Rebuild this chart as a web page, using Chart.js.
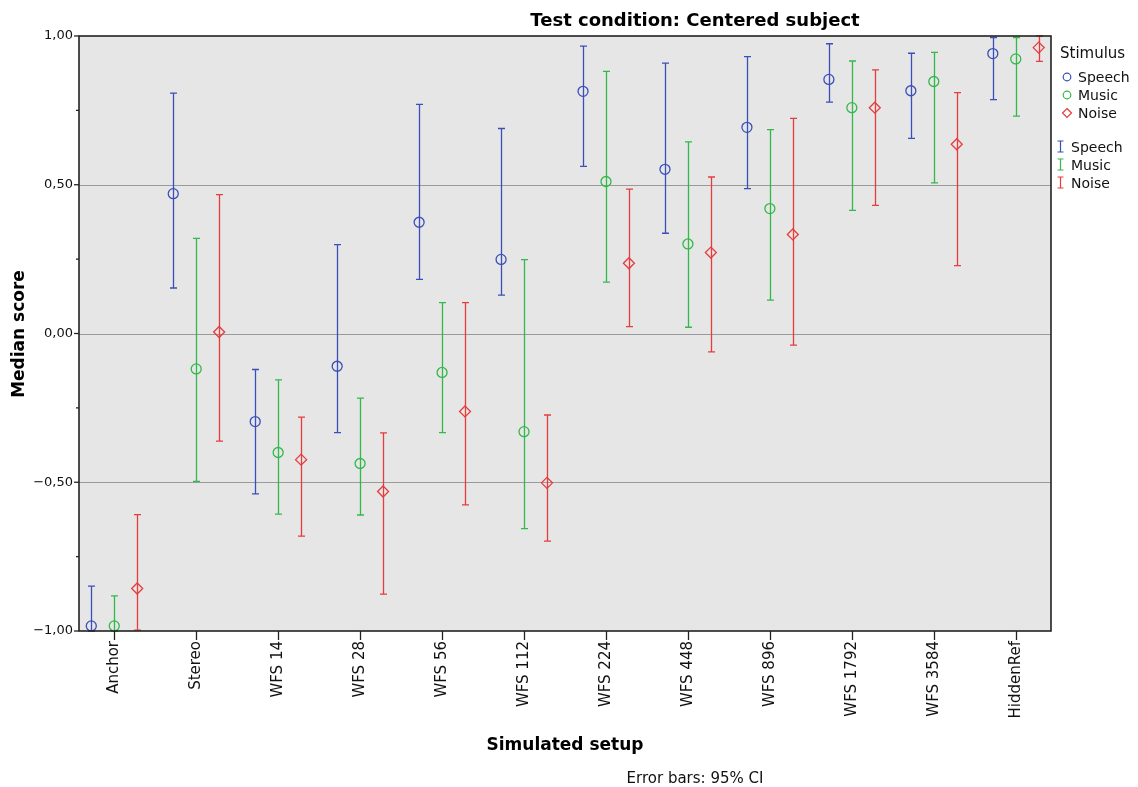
<!DOCTYPE html>
<html>
<head>
<meta charset="utf-8">
<script src="https://cdn.jsdelivr.net/npm/chart.js@4/dist/chart.umd.min.js"></script>
<style>
  html, body { margin: 0; padding: 0; background: #ffffff; }
  #wrap { width: 1138px; height: 787px; position: relative; }
</style>
</head>
<body>
<div id="wrap"><canvas id="c" width="1138" height="787"></canvas></div>
<script>
// ---- Data ----
const categories = ['Anchor','Stereo','WFS 14','WFS 28','WFS 56','WFS 112','WFS 224','WFS 448','WFS 896','WFS 1792','WFS 3584','HiddenRef'];

const speechMedian = [-0.983, 0.470, -0.296, -0.110, 0.374, 0.249, 0.814, 0.552, 0.693, 0.854, 0.816, 0.941];
const speechLower  = [-1.000, 0.153, -0.539, -0.333, 0.182, 0.129, 0.562, 0.337, 0.487, 0.778, 0.656, 0.786];
const speechUpper  = [-0.849, 0.808, -0.121,  0.299, 0.770, 0.689, 0.966, 0.909, 0.931, 0.974, 0.942, 0.995];

const musicMedian = [-0.983, -0.119, -0.400, -0.437, -0.131, -0.330, 0.511, 0.301, 0.420, 0.759, 0.847, 0.923];
const musicLower  = [-1.000, -0.497, -0.607, -0.610, -0.333, -0.656, 0.173, 0.021, 0.112, 0.414, 0.506, 0.731];
const musicUpper  = [-0.882,  0.320, -0.156, -0.217,  0.104,  0.248, 0.881, 0.644, 0.685, 0.916, 0.945, 0.995];

const noiseMedian = [-0.857, 0.005, -0.424, -0.531, -0.262, -0.502, 0.236, 0.272, 0.333, 0.759, 0.636, 0.961];
const noiseLower  = [-0.997, -0.362, -0.681, -0.876, -0.576, -0.698, 0.023, -0.062, -0.039, 0.431, 0.228, 0.915];
const noiseUpper  = [-0.609,  0.467, -0.281, -0.334,  0.104, -0.274, 0.485, 0.526, 0.723, 0.886, 0.810, 1.000];

const seriesNames = ['Speech', 'Music', 'Noise'];
const seriesColors = ['#3a4fb8', '#33b84a', '#e63c3c'];
const seriesOffsets = [-0.28, 0, 0.28];
const seriesStyles = ['circle', 'circle', 'rectRot'];

const yTickLabels = { '-1': '−1,00', '-0.5': '−0,50', '0': '0,00', '0.5': '0,50', '1': '1,00' };

const titleText = 'Test condition: Centered subject';
const yTitle = 'Median score';
const xTitle = 'Simulated setup';
const footText = 'Error bars: 95% CI';
const legendTitle = 'Stimulus';

const medians = [speechMedian, musicMedian, noiseMedian];
const lowers = [speechLower, musicLower, noiseLower];
const uppers = [speechUpper, musicUpper, noiseUpper];

const FONT = "'DejaVu Sans', sans-serif";

const datasets = seriesNames.map((name, s) => ({
  label: name,
  data: medians[s].map((v, i) => ({ x: i + seriesOffsets[s], y: v })),
  pointStyle: seriesStyles[s],
  pointRadius: s === 2 ? 5.5 : 5,
  pointHoverRadius: 5,
  pointBorderWidth: 1.3,
  borderColor: seriesColors[s],
  backgroundColor: 'rgba(0,0,0,0)',
  pointBackgroundColor: 'rgba(0,0,0,0)',
  showLine: false,
  clip: false
}));

function isMajor(v) { return Math.abs(v * 2 - Math.round(v * 2)) < 1e-9; }

const customDraw = {
  id: 'customDraw',
  beforeDatasetsDraw(chart) {
    const { ctx, chartArea: a, scales: { x, y } } = chart;
    ctx.save();
    // background
    ctx.fillStyle = '#e6e6e6';
    ctx.fillRect(a.left, a.top, a.right - a.left, a.bottom - a.top);
    // gridlines at inner major ticks
    ctx.strokeStyle = '#9a9a9a';
    ctx.lineWidth = 1;
    y.ticks.forEach(t => {
      if (isMajor(t.value) && t.value > -1 && t.value < 1) {
        const py = Math.round(y.getPixelForValue(t.value)) + 0.5;
        ctx.beginPath(); ctx.moveTo(a.left, py); ctx.lineTo(a.right, py); ctx.stroke();
      }
    });
    // error bars
    ctx.lineWidth = 1.3;
    for (let s = 0; s < 3; s++) {
      ctx.strokeStyle = seriesColors[s];
      for (let i = 0; i < categories.length; i++) {
        const px = Math.round(x.getPixelForValue(i + seriesOffsets[s])) + 0.5;
        const pLo = y.getPixelForValue(lowers[s][i]);
        const pHi = y.getPixelForValue(uppers[s][i]);
        ctx.beginPath();
        ctx.moveTo(px, pLo); ctx.lineTo(px, pHi);
        ctx.moveTo(px - 3.5, pLo); ctx.lineTo(px + 3.5, pLo);
        ctx.moveTo(px - 3.5, pHi); ctx.lineTo(px + 3.5, pHi);
        ctx.stroke();
      }
    }
    ctx.restore();
  },
  afterDraw(chart) {
    const { ctx, chartArea: a, scales: { x, y } } = chart;
    ctx.save();
    // frame
    ctx.strokeStyle = '#222';
    ctx.lineWidth = 1.6;
    ctx.strokeRect(a.left, a.top, a.right - a.left, a.bottom - a.top);
    // y tick marks
    ctx.lineWidth = 1.3;
    y.ticks.forEach(t => {
      const py = y.getPixelForValue(t.value);
      const len = isMajor(t.value) ? 5 : 3;
      ctx.beginPath(); ctx.moveTo(a.left - len, py); ctx.lineTo(a.left, py); ctx.stroke();
    });
    // x tick marks
    x.ticks.forEach(t => {
      const px = Math.round(x.getPixelForValue(t.value)) + 0.5;
      ctx.beginPath(); ctx.moveTo(px, a.bottom); ctx.lineTo(px, a.bottom + 9); ctx.stroke();
    });
    // title
    ctx.fillStyle = '#000';
    ctx.font = "bold 18px " + FONT;
    ctx.textAlign = 'center';
    ctx.textBaseline = 'alphabetic';
    ctx.fillText(titleText, 695, 26);
    // x axis title
    ctx.font = "bold 17px " + FONT;
    ctx.fillText(xTitle, 565, 750);
    // footnote
    ctx.font = "15px " + FONT;
    ctx.fillStyle = '#111';
    ctx.fillText(footText, 695, 783);
    // y axis title
    ctx.save();
    ctx.translate(24, 334);
    ctx.rotate(-Math.PI / 2);
    ctx.font = "bold 17px " + FONT;
    ctx.fillStyle = '#000';
    ctx.textAlign = 'center';
    ctx.fillText(yTitle, 0, 0);
    ctx.restore();
    // legend
    ctx.textAlign = 'left';
    ctx.fillStyle = '#111';
    ctx.font = "15px " + FONT;
    ctx.fillText(legendTitle, 1060, 58);
    ctx.font = "14px " + FONT;
    const rowsA = [77, 95, 113];
    const rowsB = [147, 165, 183];
    for (let s = 0; s < 3; s++) {
      ctx.strokeStyle = seriesColors[s];
      ctx.lineWidth = 1.2;
      const cy = rowsA[s];
      const cx = 1067;
      ctx.beginPath();
      if (s < 2) {
        ctx.arc(cx, cy, 3.8, 0, Math.PI * 2);
      } else {
        ctx.moveTo(cx, cy - 4.5); ctx.lineTo(cx + 4.5, cy); ctx.lineTo(cx, cy + 4.5); ctx.lineTo(cx - 4.5, cy); ctx.closePath();
      }
      ctx.stroke();
      ctx.fillStyle = '#111';
      ctx.fillText(seriesNames[s], 1078, cy + 5);
      // error bar symbol
      const by = rowsB[s];
      const bx = 1060.5;
      ctx.beginPath();
      ctx.moveTo(bx, by - 6); ctx.lineTo(bx, by + 5);
      ctx.moveTo(bx - 3, by - 6); ctx.lineTo(bx + 3, by - 6);
      ctx.moveTo(bx - 3, by + 5); ctx.lineTo(bx + 3, by + 5);
      ctx.stroke();
      ctx.fillText(seriesNames[s], 1071, by + 5);
    }
    ctx.restore();
  }
};

new Chart(document.getElementById('c'), {
  type: 'scatter',
  data: { datasets },
  options: {
    responsive: false,
    animation: false,
    devicePixelRatio: 1,
    layout: { padding: { top: 36, right: 87, left: 0, bottom: 0 } },
    plugins: { legend: { display: false }, title: { display: false }, tooltip: { enabled: false } },
    scales: {
      x: {
        type: 'linear',
        min: -0.43,
        max: 11.43,
        grid: { display: false, drawTicks: false },
        border: { display: false },
        afterBuildTicks: (scale) => { scale.ticks = categories.map((c, i) => ({ value: i })); },
        afterFit: (scale) => { scale.height = 156; },
        ticks: {
          autoSkip: false,
          minRotation: 90,
          maxRotation: 90,
          padding: 10,
          color: '#111',
          font: { family: FONT, size: 15 },
          callback: (v) => categories[Math.round(v)]
        }
      },
      y: {
        type: 'linear',
        min: -1,
        max: 1,
        grid: { display: false, drawTicks: false },
        border: { display: false },
        afterFit: (scale) => { scale.width = 79; },
        ticks: {
          stepSize: 0.25,
          padding: 6,
          color: '#111',
          font: { family: FONT, size: 13 },
          callback: (v) => isMajor(v) ? (yTickLabels[String(v)] || '') : ''
        }
      }
    }
  },
  plugins: [customDraw]
});
</script>
</body>
</html>
